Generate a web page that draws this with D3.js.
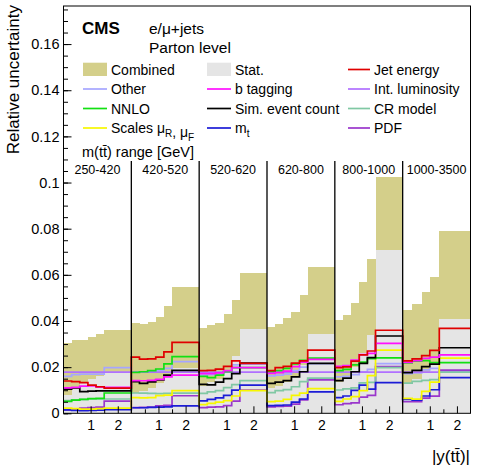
<!DOCTYPE html>
<html>
<head>
<meta charset="utf-8">
<script src="https://cdn.jsdelivr.net/npm/d3@7"></script>
<style>
  body { margin: 0; background: #fff; }
  svg text { font-family: "Liberation Sans", Arial, Helvetica, sans-serif; fill: #000; }
</style>
</head>
<body>
<div id="chart"></div>
<script>
// m(tt) ranges (one panel each) and the |y(tt)| bin edges inside each panel
const massRanges = ["250-420", "420-520", "520-620", "620-800", "800-1000", "1000-3500"];
const yEdges = [
  [0, 0.3, 0.6, 0.9, 1.2, 1.5, 2.5],
  [0, 0.3, 0.6, 0.9, 1.2, 1.5, 2.5],
  [0, 0.3, 0.6, 0.9, 1.2, 1.5, 2.5],
  [0, 0.3, 0.6, 0.9, 1.2, 1.5, 2.5],
  [0, 0.3, 0.6, 0.9, 1.2, 1.5, 2.5],
  [0, 0.35, 0.7, 1.0, 1.35, 2.5]
];

// relative uncertainties, per panel, per bin
const combined = [
  [0.0305, 0.0318, 0.0318, 0.0332, 0.0344, 0.0363],
  [0.0393, 0.0389, 0.0397, 0.0419, 0.0465, 0.0548],
  [0.0371, 0.0383, 0.0390, 0.0429, 0.0491, 0.0607],
  [0.0376, 0.0387, 0.0412, 0.0438, 0.0513, 0.0633],
  [0.0405, 0.0426, 0.0477, 0.0568, 0.0669, 0.1026],
  [0.0448, 0.0474, 0.0527, 0.0592, 0.0788]
];
const stat = [
  [0.0080, 0.0105, 0.0130, 0.0150, 0.0160, 0.0175],
  [0.0090, 0.0095, 0.0110, 0.0130, 0.0160, 0.0195],
  [0.0120, 0.0135, 0.0150, 0.0180, 0.0250, 0.0365],
  [0.0110, 0.0120, 0.0135, 0.0160, 0.0210, 0.0343],
  [0.0135, 0.0160, 0.0200, 0.0260, 0.0340, 0.0708],
  [0.0130, 0.0150, 0.0180, 0.0220, 0.0410]
];
const jetEnergy = [
  [0.0140, 0.0137, 0.0133, 0.0122, 0.0115, 0.0109],
  [0.0243, 0.0235, 0.0236, 0.0243, 0.0266, 0.0307],
  [0.0185, 0.0186, 0.0191, 0.0203, 0.0227, 0.0216],
  [0.0185, 0.0198, 0.0203, 0.0217, 0.0227, 0.0274],
  [0.0198, 0.0201, 0.0226, 0.0253, 0.0270, 0.0360],
  [0.0227, 0.0236, 0.0250, 0.0273, 0.0368]
];
const other = [
  [0.0160, 0.0168, 0.0170, 0.0170, 0.0170, 0.0198],
  [0.0178, 0.0180, 0.0183, 0.0185, 0.0195, 0.0224],
  [0.0165, 0.0168, 0.0170, 0.0178, 0.0210, 0.0213],
  [0.0162, 0.0165, 0.0170, 0.0185, 0.0200, 0.0215],
  [0.0158, 0.0160, 0.0168, 0.0180, 0.0190, 0.0215],
  [0.0172, 0.0175, 0.0188, 0.0195, 0.0182]
];
const bTagging = [
  [0.0110, 0.0112, 0.0118, 0.0119, 0.0113, 0.0112],
  [0.0142, 0.0141, 0.0143, 0.0147, 0.0158, 0.0165],
  [0.0172, 0.0172, 0.0175, 0.0185, 0.0198, 0.0198],
  [0.0173, 0.0176, 0.0183, 0.0202, 0.0222, 0.0234],
  [0.0203, 0.0207, 0.0230, 0.0254, 0.0260, 0.0303],
  [0.0221, 0.0228, 0.0238, 0.0243, 0.0253]
];
const intLumi = [
  [0.0178, 0.0178, 0.0178, 0.0178, 0.0178, 0.0178],
  [0.0178, 0.0178, 0.0178, 0.0178, 0.0178, 0.0178],
  [0.0178, 0.0178, 0.0178, 0.0178, 0.0178, 0.0178],
  [0.0178, 0.0178, 0.0178, 0.0178, 0.0178, 0.0178],
  [0.0178, 0.0178, 0.0178, 0.0178, 0.0178, 0.0178],
  [0.0178, 0.0178, 0.0178, 0.0178, 0.0178]
];
const nnlo = [
  [0.0052, 0.0057, 0.0060, 0.0064, 0.0065, 0.0088],
  [0.0177, 0.0180, 0.0185, 0.0192, 0.0214, 0.0246],
  [0.0160, 0.0155, 0.0165, 0.0180, 0.0198, 0.0198],
  [0.0180, 0.0185, 0.0195, 0.0214, 0.0229, 0.0239],
  [0.0185, 0.0190, 0.0210, 0.0222, 0.0237, 0.0240],
  [0.0218, 0.0226, 0.0228, 0.0220, 0.0220]
];
const simEventCount = [
  [0.0105, 0.0110, 0.0094, 0.0096, 0.0097, 0.0097],
  [0.0137, 0.0130, 0.0136, 0.0145, 0.0165, 0.0186],
  [0.0125, 0.0123, 0.0135, 0.0150, 0.0172, 0.0217],
  [0.0130, 0.0135, 0.0142, 0.0158, 0.0180, 0.0216],
  [0.0142, 0.0152, 0.0180, 0.0216, 0.0241, 0.0335],
  [0.0176, 0.0186, 0.0202, 0.0213, 0.0284]
];
const crModel = [
  [0.0055, 0.0058, 0.0060, 0.0062, 0.0062, 0.0062],
  [0.0088, 0.0087, 0.0086, 0.0085, 0.0086, 0.0087],
  [0.0086, 0.0093, 0.0098, 0.0111, 0.0124, 0.0142],
  [0.0090, 0.0098, 0.0103, 0.0115, 0.0137, 0.0152],
  [0.0101, 0.0106, 0.0110, 0.0132, 0.0134, 0.0198],
  [0.0131, 0.0138, 0.0143, 0.0146, 0.0178]
];
const scales = [
  [0.0022, 0.0020, 0.0018, 0.0018, 0.0020, 0.0022],
  [0.0068, 0.0067, 0.0068, 0.0077, 0.0079, 0.0098],
  [0.0038, 0.0043, 0.0048, 0.0055, 0.0075, 0.0098],
  [0.0051, 0.0053, 0.0060, 0.0078, 0.0087, 0.0107],
  [0.0052, 0.0062, 0.0072, 0.0098, 0.0163, 0.0274],
  [0.0065, 0.0061, 0.0095, 0.0135, 0.0239]
];
const mTop = [
  [0.0015, 0.0013, 0.0012, 0.0013, 0.0014, 0.0016],
  [0.0024, 0.0024, 0.0026, 0.0027, 0.0028, 0.0032],
  [0.0054, 0.0060, 0.0067, 0.0078, 0.0100, 0.0122],
  [0.0033, 0.0034, 0.0036, 0.0048, 0.0062, 0.0093],
  [0.0068, 0.0075, 0.0099, 0.0122, 0.0105, 0.0133],
  [0.0060, 0.0057, 0.0075, 0.0102, 0.0155]
];
const pdf = [
  [0.0015, 0.0018, 0.0022, 0.0025, 0.0027, 0.0053],
  [0.0025, 0.0026, 0.0027, 0.0032, 0.0034, 0.0076],
  [0.0025, 0.0027, 0.0028, 0.0033, 0.0053, 0.0100],
  [0.0028, 0.0030, 0.0031, 0.0040, 0.0058, 0.0145],
  [0.0037, 0.0042, 0.0045, 0.0070, 0.0078, 0.0202],
  [0.0050, 0.0050, 0.0066, 0.0074, 0.0187]
];

const yTicks = [0, 0.02, 0.04, 0.06, 0.08, 0.1, 0.12, 0.14, 0.16];
const xTicks = [1, 2];

// line series in drawing order
const lineSeries = [
  {key: "other", values: other, color: "#a6a6ff"},
  {key: "lumi", values: intLumi, color: "#b070ff"},
  {key: "pdf", values: pdf, color: "#9a36cc"},
  {key: "cr", values: crModel, color: "#80c8a4"},
  {key: "mt", values: mTop, color: "#1c1cd6"},
  {key: "scales", values: scales, color: "#f7f700"},
  {key: "nnlo", values: nnlo, color: "#12e012"},
  {key: "sim", values: simEventCount, color: "#000000"},
  {key: "btag", values: bTagging, color: "#ff10ff"},
  {key: "jet", values: jetEnergy, color: "#e00000"}
];
const colorOf = Object.fromEntries(lineSeries.map(d => [d.key, d.color]));
const fillCombined = "#d4cf8a", fillStat = "#e5e5e5";

const W = 493, H = 468;
const margin = {top: 6, right: 22.5, bottom: 54.7, left: 63.5};
const width = W - margin.left - margin.right,
      height = H - margin.top - margin.bottom;

const svg = d3.select("#chart").append("svg")
  .attr("width", W).attr("height", H);
const g = svg.append("g")
  .attr("transform", `translate(${margin.left}, ${margin.top})`);

// scales
const y = d3.scaleLinear().domain([0, 0.1765]).range([height, 0]);
const panel = d3.scaleBand().domain(massRanges).range([0, width]).padding(0);
const pw = panel.bandwidth();
const xIn = d3.scaleLinear().domain([0, 2.5]).range([0, pw]);

// bins as flat records
const bins = (vals) => massRanges.flatMap((m, p) => vals[p].map((v, i) => ({
  x0: panel(m) + xIn(yEdges[p][i]),
  x1: panel(m) + xIn(yEdges[p][i + 1]),
  v: v
})));

// filled histograms: combined, then stat on top
[[combined, fillCombined], [stat, fillStat]].forEach(([vals, col]) => {
  g.append("g").selectAll("rect")
    .data(bins(vals))
    .join("rect")
    .attr("x", d => d.x0)
    .attr("width", d => d.x1 - d.x0 + 0.3)
    .attr("y", d => y(d.v))
    .attr("height", d => y(0) - y(d.v))
    .attr("fill", col)
    .attr("shape-rendering", "crispEdges");
});

// step lines
const line = d3.line().x(d => d[0]).y(d => d[1]);
lineSeries.forEach(s => {
  const pts = bins(s.values).flatMap(b => [[b.x0, y(b.v)], [b.x1, y(b.v)]]);
  g.append("path")
    .attr("d", line(pts))
    .attr("fill", "none")
    .attr("stroke", s.color)
    .attr("stroke-width", 1.7);
});

// panel separators
g.append("g").selectAll("line")
  .data(massRanges.slice(1))
  .join("line")
  .attr("x1", d => panel(d)).attr("x2", d => panel(d))
  .attr("y1", 155).attr("y2", height)
  .attr("stroke", "#000").attr("stroke-width", 1.3);

// panel labels
g.append("g").selectAll("text")
  .data(massRanges)
  .join("text")
  .attr("x", d => panel(d) + pw / 2)
  .attr("y", 167.5)
  .attr("text-anchor", "middle")
  .style("font-size", "12.5px")
  .text(d => d);

// y axis, ticks pointing inward
const yMinor = d3.range(0, 0.176, 0.005);
g.append("g")
  .call(d3.axisLeft(y).tickValues(yMinor).tickSize(-4.5).tickFormat(""))
  .call(a => a.select(".domain").remove());
g.append("g")
  .call(d3.axisLeft(y).tickValues(yTicks).tickSize(-8).tickPadding(4)
    .tickFormat(d => d === 0 ? "0" : d3.format("~g")(d)))
  .call(a => a.select(".domain").remove())
  .selectAll("text").style("font-size", "14.5px");

// x axes, one per panel
massRanges.forEach(m => {
  const xs = d3.scaleLinear().domain([0, 2.5]).range([panel(m), panel(m) + pw]);
  g.append("g")
    .attr("transform", `translate(0, ${height})`)
    .call(d3.axisBottom(xs).tickValues([0.5, 1.5]).tickSize(-4).tickFormat(""))
    .call(a => a.select(".domain").remove());
  g.append("g")
    .attr("transform", `translate(0, ${height})`)
    .call(d3.axisBottom(xs).tickValues(xTicks).tickSize(-7).tickPadding(7).tickFormat(d3.format("d")))
    .call(a => a.select(".domain").remove())
    .selectAll("text").style("font-size", "14px");
});

// frame
g.append("rect")
  .attr("width", width).attr("height", height)
  .attr("fill", "none").attr("stroke", "#000").attr("stroke-width", 1);

// axis titles
svg.append("text")
  .attr("transform", "translate(19, 5) rotate(-90)")
  .attr("text-anchor", "end")
  .style("font-size", "17px")
  .text("Relative uncertainty");
svg.append("text")
  .attr("x", 470).attr("y", 461.5)
  .attr("text-anchor", "end")
  .style("font-size", "17px")
  .text("|y(tt\u0304)|");

// header texts
svg.append("text").attr("x", 82).attr("y", 34)
  .style("font-size", "17px").style("font-weight", "bold").text("CMS");
svg.append("text").attr("x", 149).attr("y", 33.5)
  .style("font-size", "15.5px").text("e/\u03bc+jets");
svg.append("text").attr("x", 149).attr("y", 52.5)
  .style("font-size", "15.5px").text("Parton level");
svg.append("text").attr("x", 82).attr("y", 157)
  .style("font-size", "14.5px").text("m(tt\u0304) range [GeV]");

// legend
const legendCols = [83, 207, 348];
const legendRows = [74.5, 94, 113.5, 133];
const legendItems = [
  {col: 0, row: 0, fill: fillCombined, label: ["Combined"]},
  {col: 0, row: 1, key: "other", label: ["Other"]},
  {col: 0, row: 2, key: "nnlo", label: ["NNLO"]},
  {col: 0, row: 3, key: "scales", label: ["Scales \u03bc", ["R"], ", \u03bc", ["F"]]},
  {col: 1, row: 0, fill: fillStat, label: ["Stat."]},
  {col: 1, row: 1, key: "btag", label: ["b tagging"]},
  {col: 1, row: 2, key: "sim", label: ["Sim. event count"]},
  {col: 1, row: 3, key: "mt", label: ["m", ["t"]]},
  {col: 2, row: 0, key: "jet", label: ["Jet energy"]},
  {col: 2, row: 1, key: "lumi", label: ["Int. luminosity"]},
  {col: 2, row: 2, key: "cr", label: ["CR model"]},
  {col: 2, row: 3, key: "pdf", label: ["PDF"]}
];
const leg = svg.append("g");
legendItems.forEach(it => {
  const x0 = legendCols[it.col], yb = legendRows[it.row];
  const sw = it.col === 2 ? 22 : 24;
  if (it.fill) {
    leg.append("rect").attr("x", x0).attr("y", yb - 11.8)
      .attr("width", sw).attr("height", 13.3).attr("fill", it.fill);
  } else {
    leg.append("line").attr("x1", x0).attr("x2", x0 + sw)
      .attr("y1", yb - 5).attr("y2", yb - 5)
      .attr("stroke", colorOf[it.key]).attr("stroke-width", 1.7);
  }
  const t = leg.append("text").attr("x", x0 + sw + 4).attr("y", yb)
    .style("font-size", "14px");
  it.label.forEach(part => {
    if (Array.isArray(part)) {
      t.append("tspan").attr("dy", 4).style("font-size", "10px").text(part[0]);
      t.append("tspan").attr("dy", -4).text("");
    } else {
      t.append("tspan").text(part);
    }
  });
});
</script>
</body>
</html>
